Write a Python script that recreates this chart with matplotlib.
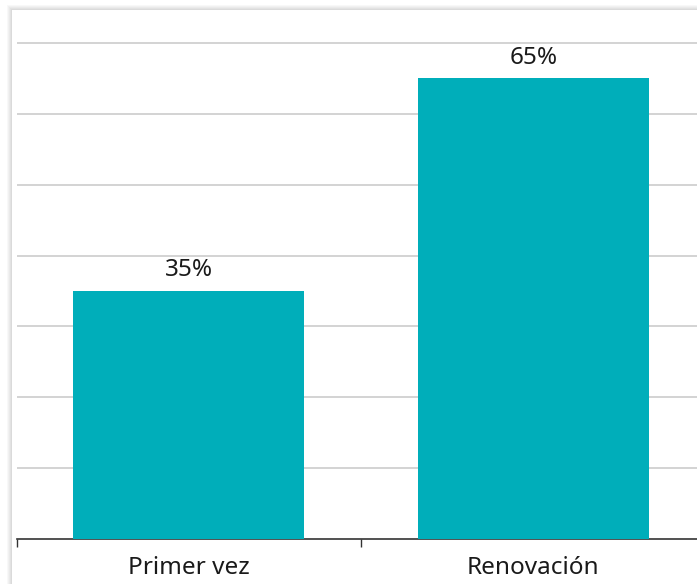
import matplotlib
matplotlib.use("Agg")
import matplotlib.pyplot as plt
from matplotlib.patches import Rectangle

categories = ["Primer vez", "Renovación"]
values = [35, 65]
labels = ["35%", "65%"]
grid_ticks = [10, 20, 30, 40, 50, 60, 70]

W, H = 697, 584
fig = plt.figure(figsize=(W / 100, H / 100), dpi=100)
fig.patch.set_facecolor("white")

# card with soft shadow on the left and top
cx0, cy_top = 12, 10
for i, a in enumerate([0.05, 0.05, 0.06, 0.07, 0.08]):
    off = 5 - i
    fig.patches.append(Rectangle(((cx0 - off) / W, -0.1), 1.2, (H - cy_top + off) / H + 0.1,
                                 transform=fig.transFigure, facecolor="#808080",
                                 alpha=a, edgecolor="none", zorder=-3))
fig.patches.append(Rectangle((cx0 / W, -0.1), 1.2, (H - cy_top) / H + 0.1,
                             transform=fig.transFigure, facecolor="white",
                             edgecolor="none", zorder=-2))

px_per_unit = (539 - 43) / 70.0
ytop = 72
left_px, right_px = 16.5, 705.5
bottom_px = 539
ax = fig.add_axes([left_px / W, (H - bottom_px) / H,
                   (right_px - left_px) / W, ytop * px_per_unit / H])
ax.set_facecolor("none")
ax.set_zorder(1)

FONT = "Noto Sans"
x = list(range(len(categories)))
ax.bar(x, values, width=0.67, color="#00AEBA", zorder=3)
for xi, v, lab in zip(x, values, labels):
    ax.annotate(lab, (xi, v), xytext=(0, 10.5), textcoords="offset points",
                ha="center", va="baseline", fontsize=17.5, family=FONT,
                color="#1a1a1a")

ax.set_xlim(-0.5, 1.5)
ax.set_ylim(0, ytop)
ax.set_yticks(grid_ticks)
ax.yaxis.grid(True, color="#d0d0d0", linewidth=1.3)
ax.tick_params(axis="y", left=False, labelleft=False)
ax.set_xticks([-0.5, 0.5])
ax.set_xticks(x, minor=True)
ax.set_xticklabels([])
ax.set_xticklabels(categories, minor=True, fontsize=17.5, family=FONT, color="#1a1a1a")
ax.tick_params(axis="x", which="major", length=6, width=1, color="#333333")
ax.tick_params(axis="x", which="minor", length=0, pad=12)
for s in ["top", "right", "left"]:
    ax.spines[s].set_visible(False)
ax.spines["bottom"].set_color("#333333")
ax.spines["bottom"].set_linewidth(1.2)
ax.set_axisbelow(True)

fig.savefig("out.png", dpi=100)
